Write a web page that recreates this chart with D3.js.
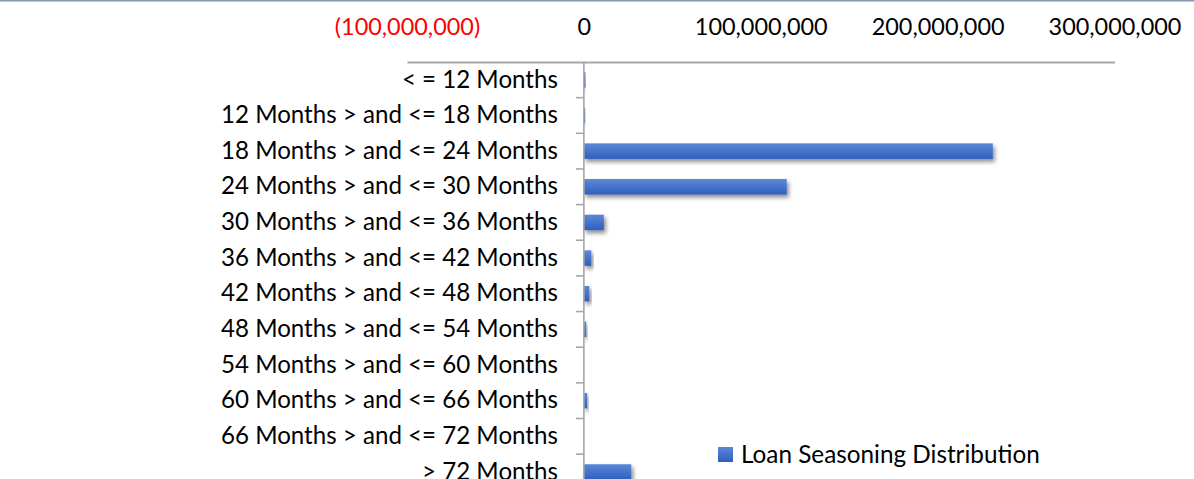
<!DOCTYPE html>
<html>
<head>
<meta charset="utf-8">
<script src="https://cdn.jsdelivr.net/npm/d3@7"></script>
<style>
  html, body { margin: 0; padding: 0; background: #ffffff; overflow: hidden; }
  svg { display: block; }
  text { font-family: Lato, "Open Sans", sans-serif; fill: #000; }
</style>
</head>
<body>
<svg id="chart" width="1194" height="479"></svg>
<script>
// ---- data ----
const categories = [
  "< = 12 Months",
  "12 Months > and <= 18 Months",
  "18 Months > and <= 24 Months",
  "24 Months > and <= 30 Months",
  "30 Months > and <= 36 Months",
  "36 Months > and <= 42 Months",
  "42 Months > and <= 48 Months",
  "48 Months > and <= 54 Months",
  "54 Months > and <= 60 Months",
  "60 Months > and <= 66 Months",
  "66 Months > and <= 72 Months",
  "> 72 Months"
];
const values = [900000, 700000, 231200000, 114700000, 11300000, 4200000, 3100000, 1400000, 0, 1900000, 0, 26800000];
const tickValues = [-100000000, 0, 100000000, 200000000, 300000000];
const seriesName = "Loan Seasoning Distribution";

// ---- layout ----
const svg = d3.select("#chart");
const W = 1194, H = 479;
const axisY = 62;
const step = 35.65;

const x = d3.scaleLinear().domain([-100000000, 300000000]).range([407, 1114.5]);
const y = d3.scaleBand().domain(categories)
  .range([axisY, axisY + step * categories.length])
  .paddingInner(0.565).paddingOuter(0.2825);

// helper: fit font size to target width
function fitSize(sample, target, base) {
  const t = svg.append("text").attr("font-size", base).text(sample);
  const w = t.node().getComputedTextLength();
  t.remove();
  return base * target / w;
}
const tickFont = fitSize("100,000,000", 133, 20);
const catFont = fitSize("12 Months > and <= 18 Months", 337, 20);
const legFont = fitSize(seriesName, 299, 20);

// top border
svg.append("rect").attr("x", 0).attr("y", 0).attr("width", W).attr("height", 1.5).attr("fill", "#8497b0");

// defs: gradient + shadow
const defs = svg.append("defs");
const grad = defs.append("linearGradient").attr("id", "barGrad")
  .attr("x1", 0).attr("y1", 0).attr("x2", 0).attr("y2", 1);
grad.append("stop").attr("offset", "0%").attr("stop-color", "#5c88d8");
grad.append("stop").attr("offset", "100%").attr("stop-color", "#2f5fbd");
const f = defs.append("filter").attr("id", "shadow")
  .attr("x", "-20%").attr("y", "-50%").attr("width", "150%").attr("height", "250%");
f.append("feDropShadow").attr("dx", 2).attr("dy", 3).attr("stdDeviation", 2.2)
  .attr("flood-color", "#000").attr("flood-opacity", 0.45);

// x axis (top)
const xAxis = d3.axisTop(x)
  .tickValues(tickValues)
  .tickSize(0)
  .tickSizeOuter(0)
  .tickPadding(27)
  .tickFormat(d => {
    const s = d3.format(",")(Math.abs(d));
    return d < 0 ? "(" + s + ")" : s;
  });
const gx = svg.append("g").attr("transform", `translate(0,${axisY})`).call(xAxis);
gx.select(".domain").attr("stroke", "#a6a6a6").attr("stroke-width", 2);
gx.selectAll(".tick text")
  .attr("font-size", tickFont)
  .attr("font-family", "Lato, 'Open Sans', sans-serif")
  .style("fill", d => d < 0 ? "#ff0000" : "#000");

// bars
svg.append("g").selectAll("rect.bar")
  .data(values)
  .join("rect")
  .attr("class", "bar")
  .attr("x", d => x(Math.min(0, d)))
  .attr("y", (d, i) => y(categories[i]))
  .attr("width", d => Math.abs(x(d) - x(0)))
  .attr("height", y.bandwidth())
  .attr("fill", "url(#barGrad)")
  .attr("filter", "url(#shadow)");

// y axis (left, at zero)
const yAxis = d3.axisLeft(y).tickSize(0).tickPadding(26);
const gy = svg.append("g").attr("transform", `translate(${x(0)},0)`).call(yAxis);
gy.select(".domain").attr("d", `M0,${axisY}V${H + 20}`).attr("stroke", "#a6a6a6").attr("stroke-width", 1.6);
gy.selectAll(".tick text")
  .attr("font-size", catFont)
  .attr("font-family", "Lato, 'Open Sans', sans-serif")
  .style("fill", "#000");

// tick marks between categories
gy.selectAll("line.sep")
  .data(categories)
  .join("line")
  .attr("class", "sep")
  .attr("x1", -8).attr("x2", 0)
  .attr("y1", d => y(d) - y.step() * y.paddingOuter() + y.step())
  .attr("y2", d => y(d) - y.step() * y.paddingOuter() + y.step())
  .attr("stroke", "#a6a6a6").attr("stroke-width", 1.6);

// legend
const lg = svg.append("g").attr("transform", "translate(718,447)");
lg.append("rect").attr("width", 15).attr("height", 15).attr("fill", "url(#barGrad)");
lg.append("text").attr("x", 23).attr("y", 7.5).attr("dy", "0.35em")
  .attr("font-size", legFont).text(seriesName);
</script>
</body>
</html>
